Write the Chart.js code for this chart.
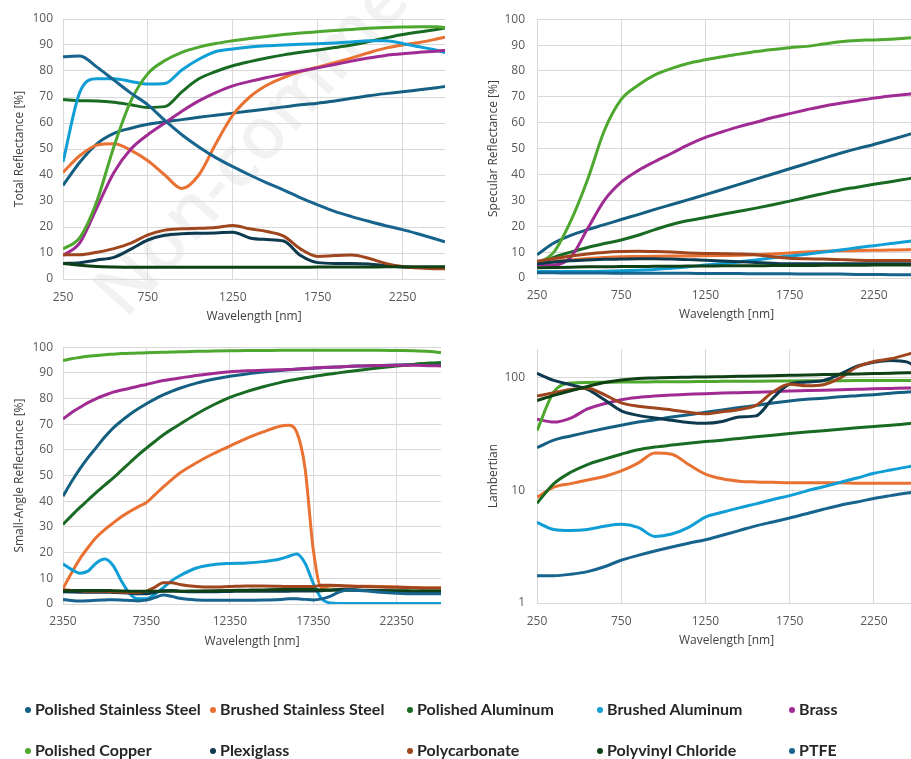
<!DOCTYPE html>
<html>
<head>
<meta charset="utf-8">
<script src="https://cdn.jsdelivr.net/npm/chart.js@4.4.1/dist/chart.umd.min.js"></script>
<style>
  html, body { margin: 0; padding: 0; background: #fff; }
  body { width: 911px; height: 759px; overflow: hidden; position: relative; }
  .box { position: absolute; }
  .mark { position: absolute; left: 122px; top: 245px; height: 72px; line-height: 72px; font: 600 72px 'Open Sans', sans-serif;
          color: rgba(0,0,0,0.05); transform: rotate(-48deg); transform-origin: 0 100%; white-space: nowrap; }
  #legend { position: absolute; left: 0; top: 0; width: 911px; height: 759px; pointer-events: none; }
  .item { position: absolute; font: bold 16px Lato, 'Open Sans', sans-serif; color: #262626;
          white-space: nowrap; line-height: 18px; }
  .dot { display: inline-block; width: 6px; height: 6px; border-radius: 50%; margin-right: 4px; vertical-align: 2px; }
</style>
</head>
<body>
<div class="mark">Non-commercial</div>
<div class="box" style="left:0;top:0;width:460px;height:330px"><canvas id="total"></canvas></div>
<div class="box" style="left:460px;top:0;width:470px;height:330px"><canvas id="specular"></canvas></div>
<div class="box" style="left:0;top:330px;width:460px;height:330px"><canvas id="smallAngle"></canvas></div>
<div class="box" style="left:460px;top:330px;width:470px;height:330px"><canvas id="lambertian"></canvas></div>
<div id="legend"></div>
<script>
const seriesNames = ['Polished Stainless Steel', 'Brushed Stainless Steel', 'Polished Aluminum', 'Brushed Aluminum', 'Brass',
                     'Polished Copper', 'Plexiglass', 'Polycarbonate', 'Polyvinyl Chloride', 'PTFE']
const seriesColors = ['#156082', '#E97132', '#196B24', '#0F9ED5', '#A02B93',
                      '#4EA72E', '#0D3A4E', '#A0461E', '#0F4016', '#17648E']

// wavelengths for the 250-2500 nm charts
const wlNear = [250, 350, 450, 550, 650, 750, 850, 950, 1050, 1150, 1250, 1350, 1450, 1550, 1650, 1750, 1850, 1950, 2050, 2150, 2250, 2350, 2450, 2500]
// wavelengths for the small-angle chart
const wlFar = [2350, 2850, 3350, 3850, 4350, 4850, 5350, 5850, 6350, 6850, 7350, 7850, 8350, 8850, 9350, 10350, 11350, 12350, 13350, 14350,
               15350, 15850, 16350, 16850, 17350, 17850, 18350, 18850, 19350, 20350, 21350, 22350, 23350, 24350, 25000]

const nearTicks = [250, 750, 1250, 1750, 2250]
const farTicks = [2350, 7350, 12350, 17350, 22350]
const percentTicks = [0, 10, 20, 30, 40, 50, 60, 70, 80, 90, 100]
const lambTicks = [1, 10, 100]

// Total Reflectance [%]
const totalPSS = [36, 45, 52, 56, 58, 59.5, 60.5, 61.3, 62.2, 63, 63.8, 64.6, 65.4, 66.2, 67, 67.6, 68.5, 69.5, 70.5, 71.3, 72, 72.8, 73.6, 74]
const totalBSS = [41, 47.5, 51.5, 52, 49.5, 45.5, 40, 34.8, 40, 52, 63, 70, 74.5, 77.5, 79.8, 81.5, 83.2, 85, 87, 88.8, 90, 91, 92.3, 93]
const totalPAl = [69, 68.6, 68.5, 68, 67, 66, 66.3, 72, 77, 79.8, 82, 83.6, 85, 86.2, 87.2, 88.1, 89, 90, 91.3, 92.7, 94, 95, 96, 96.5]
const totalBAl = [45, 72, 77, 77, 76, 75, 75.2, 80.4, 84.5, 87.5, 88.5, 89.2, 89.7, 90, 90.3, 90.5, 90.8, 91.2, 91.6, 91.6, 90.6, 89.3, 88, 87]
const totalBrass = [9, 14, 27.5, 41, 50, 55.5, 60, 64.5, 68.5, 71.7, 74.3, 76, 77.5, 78.8, 80, 81.2, 82.5, 83.8, 85, 86, 86.6, 87.2, 87.6, 88]
const totalCopper = [11.5, 16, 30, 51, 68.5, 79, 84, 87.2, 89.2, 90.6, 91.6, 92.5, 93.3, 94, 94.6, 95.1, 95.6, 96, 96.4, 96.7, 96.9, 97, 97, 96.7]
const totalPlexi = [6, 6.3, 7.3, 8.3, 11.5, 15, 16.8, 17.4, 17.6, 17.7, 18, 15.8, 15.2, 14.6, 9, 6.3, 6, 6, 5.8, 5.2, 4.6, 4.4, 4.4, 4.5]
const totalPoly = [9.3, 9.3, 10.3, 11.7, 13.8, 17, 18.8, 19.3, 19.5, 19.8, 20.6, 19.3, 18.3, 16.5, 11.5, 8.7, 9, 9.2, 8, 6, 4.8, 4.2, 3.9, 3.9]
const totalPVC = [6, 5.3, 4.8, 4.6, 4.5, 4.5, 4.5, 4.5, 4.5, 4.5, 4.5, 4.5, 4.5, 4.5, 4.5, 4.6, 4.6, 4.6, 4.6, 4.7, 4.7, 4.7, 4.7, 4.7]
const totalPTFE = [85.5, 85.8, 81.5, 76.5, 71.5, 67, 61, 55.5, 50.8, 46.7, 43.2, 40, 37, 34.2, 31.2, 28.5, 26, 24, 22.2, 20.5, 19, 17.2, 15.3, 14.3]

// Specular Reflectance [%]
const specPSS = [9, 13.5, 16.5, 18.7, 20.6, 22.6, 24.5, 26.5, 28.4, 30.3, 32.2, 34.2, 36.2, 38.2, 40.2, 42.2, 44.2, 46.2, 48.2, 50, 51.6, 53.4, 55.3, 56.3]
const specBSS = [6, 6.5, 7, 7.5, 7.9, 8.2, 8.3, 8.4, 8.5, 8.5, 8.6, 8.7, 8.8, 9, 9.3, 9.7, 10, 10.3, 10.5, 10.6, 10.7, 10.8, 10.9, 11]
const specPAl = [5, 8, 10, 11.8, 13.3, 14.7, 16.5, 18.7, 20.7, 22.2, 23.4, 24.6, 25.8, 27, 28.3, 29.7, 31.2, 32.6, 34, 35.1, 36.2, 37.2, 38.3, 38.8]
const specBAl = [2.5, 2.5, 2.5, 2.5, 2.6, 2.8, 3, 3.3, 3.8, 4.3, 5, 5.6, 6.2, 7, 7.8, 8.5, 9.2, 10, 10.8, 11.7, 12.5, 13.3, 14.1, 14.5]
const specBrass = [5, 5, 8, 19, 30, 37, 41.5, 45, 48.2, 51.5, 54.3, 56.5, 58.5, 60.2, 62, 63.5, 65, 66.4, 67.5, 68.5, 69.5, 70.3, 71, 71.3]
const specCopper = [5.5, 10, 22, 38, 57, 69, 74.5, 78.5, 81, 83, 84.3, 85.5, 86.5, 87.5, 88.3, 89, 89.5, 90.4, 91.3, 91.8, 92, 92.3, 92.7, 92.9]
const specPlexi = [5.5, 6.2, 6.7, 7, 7.2, 7.3, 7.4, 7.4, 7.3, 7.1, 6.9, 6.6, 6.3, 6, 5.7, 5.5, 5.5, 5.5, 5.5, 5.5, 5.5, 5.5, 5.5, 5.5]
const specPoly = [6.5, 7.5, 8.5, 9.3, 9.9, 10.2, 10.3, 10.2, 10, 9.7, 9.5, 9.4, 9.3, 9, 8.2, 7.6, 7.4, 7.3, 7.1, 6.9, 6.8, 6.8, 6.8, 6.8]
const specPVC = [4, 4.1, 4.2, 4.3, 4.3, 4.4, 4.4, 4.5, 4.5, 4.6, 4.6, 4.7, 4.7, 4.7, 4.8, 4.8, 4.8, 4.9, 4.9, 4.9, 5, 5, 5, 5]
const specPTFE = [2, 2, 1.9, 1.9, 1.9, 1.8, 1.8, 1.8, 1.8, 1.8, 1.7, 1.7, 1.7, 1.6, 1.6, 1.6, 1.5, 1.5, 1.5, 1.4, 1.4, 1.3, 1.3, 1.2]

// Small-Angle Reflectance [%]
const smallPSS = [42, 47.5, 52.5, 57, 61, 65, 68.5, 71.3, 73.8, 76, 78, 79.8, 81.4, 82.8, 84, 86, 87.5, 88.7, 89.6, 90.3,
                  90.9, 91.2, 91.4, 91.6, 91.8, 92, 92.2, 92.3, 92.5, 92.7, 92.9, 93.1, 93.3, 93.5, 93.6]
const smallBSS = [6, 12, 17.5, 22, 26, 29, 31.5, 34, 36, 37.8, 39.5, 42.5, 45.5, 48.3, 51, 55, 58.5, 61.5, 64.5, 67,
                  69.2, 69.6, 67, 53, 21, 6.3, 7, 7.1, 7, 6.9, 6.8, 6.6, 6.4, 6.2, 6.2]
const smallPAl = [31, 34.3, 37.5, 40.5, 43.5, 46.3, 49, 52, 55, 58, 60.7, 63.3, 65.8, 68, 70, 74, 77.5, 80.5, 82.7, 84.6,
                  86.2, 86.9, 87.5, 88.1, 88.6, 89.1, 89.6, 90, 90.4, 91.2, 92, 92.7, 93.3, 93.8, 94]
const smallBAl = [15.6, 13.5, 12, 12.8, 16, 17.5, 15, 9, 4, 2, 2, 3.8, 6.3, 9, 11, 14, 15.3, 15.8, 16, 16.5,
                  17.5, 18.5, 19.5, 16, 8, 2, 0.4, 0.2, 0.2, 0.2, 0.2, 0.2, 0.2, 0.2, 0.2]
const smallBrass = [72, 74.5, 76.5, 78.4, 80, 81.3, 82.5, 83.3, 84, 84.8, 85.5, 86.3, 87, 87.5, 88, 89, 89.8, 90.4, 90.8, 91,
                    91.2, 91.3, 91.5, 91.7, 91.9, 92.1, 92.2, 92.3, 92.5, 92.7, 92.9, 93, 93, 92.8, 92.7]
const smallCopper = [94.8, 95.5, 96, 96.5, 96.8, 97.1, 97.3, 97.5, 97.6, 97.7, 97.8, 97.9, 98, 98.1, 98.2, 98.4, 98.5, 98.6, 98.7, 98.7,
                     98.8, 98.8, 98.8, 98.8, 98.8, 98.8, 98.8, 98.8, 98.8, 98.8, 98.8, 98.7, 98.6, 98.3, 97.9]
const smallPlexi = [4.8, 4.7, 4.6, 4.6, 4.6, 4.6, 4.5, 4.4, 4.2, 4, 4, 4.5, 5.2, 5.3, 5, 4.8, 4.8, 4.9, 5, 5,
                    5, 5, 5.1, 5.1, 5.1, 5.2, 5.4, 5.6, 5.6, 5.4, 5.2, 5, 4.9, 4.8, 4.8]
const smallPoly = [5.5, 5.3, 5.2, 5, 5, 5, 4.8, 4.6, 4.5, 4.5, 5, 6.5, 8.3, 8.3, 7.6, 6.8, 6.6, 6.8, 7, 7,
                   6.9, 6.8, 6.8, 6.8, 6.8, 7.3, 7.3, 7.2, 7, 6.8, 6.6, 6.5, 6.3, 6.2, 6.2]
const smallPVC = [5.2, 5.2, 5.3, 5.3, 5.3, 5.3, 5.2, 5.1, 5, 5, 5, 5, 5, 5, 5, 5.1, 5.2, 5.3, 5.4, 5.5,
                  5.6, 5.6, 5.6, 5.6, 5.6, 5.5, 5.5, 5.4, 5.4, 5.3, 5.2, 5.2, 5.1, 5.1, 5.1]
const smallPTFE = [1.8, 1.4, 1.2, 1.3, 1.5, 1.6, 1.7, 1.6, 1.4, 1.2, 1.5, 2.5, 3.5, 3, 2.2, 1.6, 1.5, 1.5, 1.5, 1.6,
                   1.8, 2, 2, 1.8, 1.6, 2, 3, 4.5, 5.5, 5.2, 4.6, 4.2, 4, 4, 4]

// Lambertian (log scale)
const lambPSS = [24, 28, 30.5, 33, 35.5, 38, 40.5, 42.5, 45, 47, 49.5, 52, 54.5, 57, 60, 62.5, 64.5, 66, 68, 69.5, 71, 73, 75, 75.5]
const lambBSS = [8.7, 10.7, 11.5, 12.4, 13.3, 14.9, 17.5, 21.5, 21, 17, 14, 12.7, 12.1, 11.9, 11.8, 11.7, 11.7, 11.7, 11.7, 11.6, 11.6, 11.6, 11.6, 11.6]
const lambPAl = [7.7, 11.5, 14.5, 17, 19, 21, 23, 24.3, 25.3, 26.3, 27.2, 28, 29, 30, 31, 32, 33, 34, 35, 36, 37, 38, 39.2, 40]
const lambBAl = [5.2, 4.5, 4.4, 4.5, 4.8, 5, 4.7, 3.9, 4.1, 4.7, 5.8, 6.4, 7, 7.6, 8.3, 9, 9.9, 10.8, 11.8, 12.9, 14.2, 15.2, 16.2, 16.6]
const lambBrass = [43, 40.5, 44, 53, 59, 64, 67, 69, 70.5, 71.5, 72.5, 73.3, 74, 74.7, 75.5, 76.5, 77.2, 77.9, 78.6, 79.3, 80, 80.6, 81.2, 81.5]
const lambCopper = [34, 75, 90, 91, 91.5, 92, 92, 92.3, 92.5, 92.7, 93, 93.2, 93.4, 93.6, 93.8, 94, 94.2, 94.4, 94.6, 94.8, 95, 95, 95, 95]
const lambPlexi = [110, 95, 87, 79, 64, 51, 46.5, 44, 42, 40.2, 39.5, 41, 45, 46, 66, 88, 92, 95, 108, 127, 138, 143, 138, 125]
const lambPoly = [69, 74, 79, 81, 71, 60, 56, 54, 52, 49.5, 48, 50, 52.5, 57, 75, 88, 85, 87, 100, 125, 140, 148, 162, 170]
const lambPVC = [63, 70, 77, 84, 91, 96, 99, 100, 101, 101.5, 102, 102.7, 103.4, 104.1, 104.8, 105.5, 106.2, 107, 107.8, 108.6, 109.4, 110.2, 111, 111.5]
const lambPTFE = [1.75, 1.75, 1.8, 1.9, 2.1, 2.4, 2.65, 2.9, 3.15, 3.4, 3.65, 4, 4.4, 4.85, 5.25, 5.7, 6.2, 6.8, 7.4, 7.9, 8.5, 9, 9.5, 9.7]

const fontFamily = "'Open Sans', sans-serif"
const gridColor = '#d9d9d9'

function fixedTicks(values) {
    return function (axis) {
        axis.ticks = values.map(v => ({ value: v }))
    }
}

function makeChart(id, wl, series, cfg) {
    let datasets = series.map((vals, i) => ({
        label: seriesNames[i],
        data: wl.map((x, j) => ({ x: x, y: vals[j] })),
        borderColor: seriesColors[i],
        backgroundColor: seriesColors[i],
        borderWidth: 3,
        pointRadius: 0,
        cubicInterpolationMode: 'monotone',
        order: series.length - i
    }))

    new Chart(document.getElementById(id), {
        type: 'line',
        data: { datasets: datasets },
        options: {
            responsive: true,
            maintainAspectRatio: false,
            animation: false,
            layout: { padding: { left: 0, top: cfg.top, right: cfg.right, bottom: 0 } },
            plugins: { legend: { display: false }, tooltip: { enabled: false } },
            scales: {
                x: {
                    type: 'linear',
                    min: cfg.xMin,
                    max: cfg.xMax,
                    afterBuildTicks: fixedTicks(cfg.xTicks),
                    afterFit: (axis) => { axis.height = cfg.xHeight },
                    grid: { color: gridColor, drawTicks: false },
                    border: { display: false },
                    ticks: { color: '#595959', font: { family: fontFamily, size: 12 }, padding: cfg.xPad,
                             maxRotation: 0, autoSkip: false, callback: (v) => String(v) },
                    title: { display: true, text: 'Wavelength [nm]', color: '#404040',
                             font: { family: fontFamily, size: 12 }, padding: { top: 0, bottom: cfg.xTitlePad } }
                },
                y: {
                    type: cfg.yType,
                    min: cfg.yMin,
                    max: cfg.yMax,
                    afterBuildTicks: fixedTicks(cfg.yTicks),
                    afterFit: (axis) => { axis.width = cfg.yWidth },
                    grid: { color: gridColor, drawTicks: false },
                    border: { display: false },
                    ticks: { color: '#595959', font: { family: fontFamily, size: 12 }, padding: cfg.yPad,
                             autoSkip: false, callback: (v) => String(v) },
                    title: { display: true, text: cfg.yTitle, color: '#404040',
                             font: { family: fontFamily, size: 12 }, padding: { top: cfg.yTitlePad, bottom: 0 } }
                }
            }
        }
    })
}

makeChart('total', wlNear,
    [totalPSS, totalBSS, totalPAl, totalBAl, totalBrass, totalCopper, totalPlexi, totalPoly, totalPVC, totalPTFE],
    { top: 19, right: 15, xHeight: 51, yWidth: 63, xMin: 250, xMax: 2500, xTicks: nearTicks,
      yType: 'linear', yMin: 0, yMax: 100, yTicks: percentTicks, yTitle: 'Total Reflectance [%]',
      xPad: 11, yPad: 10, xTitlePad: 6, yTitlePad: 12 })

makeChart('specular', wlNear,
    [specPSS, specBSS, specPAl, specBAl, specBrass, specCopper, specPlexi, specPoly, specPVC, specPTFE],
    { top: 16, right: 14, xHeight: 52, yWidth: 77, xMin: 250, xMax: 2500, xTicks: nearTicks,
      yType: 'linear', yMin: 0, yMax: 100, yTicks: percentTicks, yTitle: 'Specular Reflectance [%]',
      xPad: 10, yPad: 12, xTitlePad: 8, yTitlePad: 26 })

makeChart('smallAngle', wlFar,
    [smallPSS, smallBSS, smallPAl, smallBAl, smallBrass, smallCopper, smallPlexi, smallPoly, smallPVC, smallPTFE],
    { top: 14, right: 19, xHeight: 56, yWidth: 63, xMin: 2350, xMax: 25000, xTicks: farTicks,
      yType: 'linear', yMin: 0, yMax: 100, yTicks: percentTicks, yTitle: 'Small-Angle Reflectance [%]',
      xPad: 10, yPad: 10, xTitlePad: 11, yTitlePad: 12 })

makeChart('lambertian', wlNear,
    [lambPSS, lambBSS, lambPAl, lambBAl, lambBrass, lambCopper, lambPlexi, lambPoly, lambPVC, lambPTFE],
    { top: 13, right: 14, xHeight: 57, yWidth: 77, xMin: 250, xMax: 2500, xTicks: nearTicks,
      yType: 'logarithmic', yMin: 1, yMax: 180, yTicks: lambTicks, yTitle: 'Lambertian',
      xPad: 11, yPad: 12, xTitlePad: 12, yTitlePad: 26 })

// legend, two rows of five
const legendCols = [25, 210, 407, 597, 789]
const legendRows = [700, 741]
let legend = document.getElementById('legend')
seriesNames.forEach((name, i) => {
    let item = document.createElement('div')
    item.className = 'item'
    item.style.left = legendCols[i % 5] + 'px'
    item.style.top = legendRows[Math.floor(i / 5)] + 'px'
    item.innerHTML = '<span class="dot" style="background:' + seriesColors[i] + '"></span>' + name
    legend.appendChild(item)
})
</script>
</body>
</html>
